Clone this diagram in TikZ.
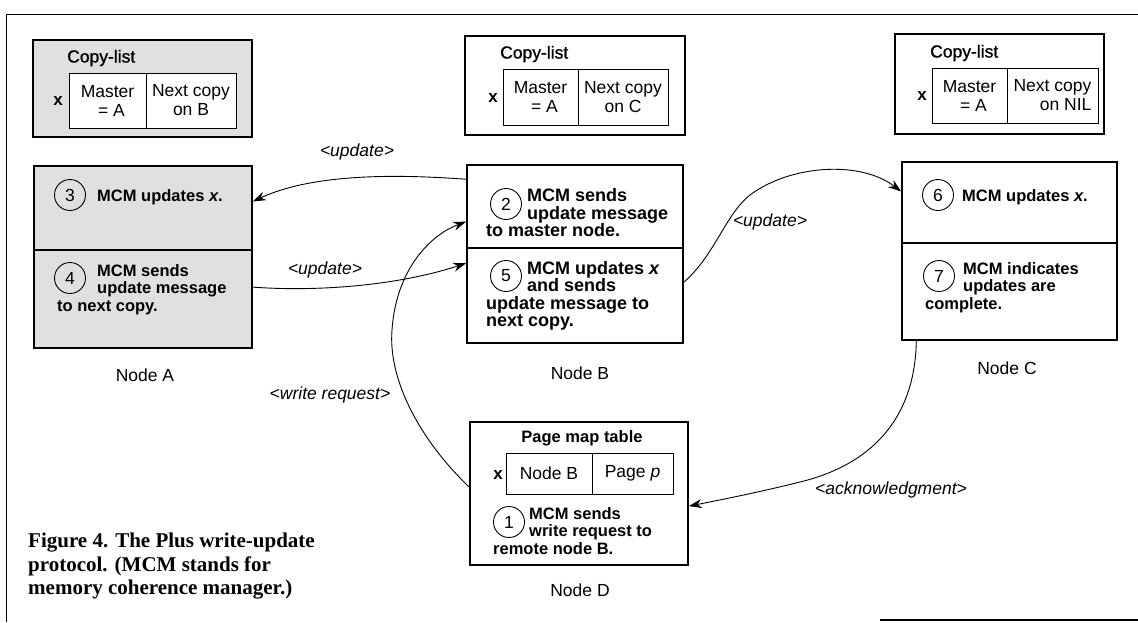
\documentclass[tikz,border=0pt]{standalone}
\usepackage{fontspec}
\setmainfont{Liberation Sans}
\newfontfamily\capfont{Liberation Serif}
\newfontfamily\medfont[FakeBold=1]{Liberation Sans}
\usetikzlibrary{arrows.meta,calc}
\begin{document}
\begin{tikzpicture}[x=1pt,y=-1pt,
  box/.style={draw, line width=1.7pt, inner sep=0pt},
  shaded/.style={fill=black!12},
  cellbox/.style={draw, line width=0.8pt, fill=white, inner sep=0pt, align=center, font=\fontsize{17.5}{19}\selectfont},
  num/.style={circle, draw, line width=0.9pt, minimum size=31pt, inner sep=0pt, font=\fontsize{17.5}{17.5}\selectfont},
  steptxt/.style={anchor=north west, align=left, inner sep=0pt, font=\bfseries\fontsize{16.5}{17.5}\selectfont},
  steptxtB/.style={anchor=north west, align=left, inner sep=0pt, font=\bfseries\fontsize{18}{17.5}\selectfont},
  title/.style={anchor=west, inner sep=0pt, font=\medfont\fontsize{17.5}{19}\selectfont},
  xlab/.style={inner sep=0pt, font=\bfseries\fontsize{17}{17}\selectfont},
  nodelab/.style={inner sep=0pt, font=\fontsize{17.5}{19}\selectfont},
  msg/.style={inner sep=0pt, font=\itshape\fontsize{17.5}{19}\selectfont},
  divider/.style={line width=1.2pt},
  conn/.style={line width=0.9pt, -{Stealth[length=13pt,width=9pt]}},
]
\useasboundingbox (0,0) rectangle (1138,622);

% frame
\draw[line width=0.9pt] (1138,14) -- (6,14) -- (6,622);
\draw[line width=2pt] (880,620) -- (1138,620);

% ---- Copy-list A
\node[box, shaded, minimum width=219pt, minimum height=97pt] (clA) at (142.5,88.5) {};
\node[title] (clAt) at (67,58) {Copy-list};
\node[cellbox, minimum width=77pt, minimum height=55pt] (clA1) at (107.5,100.5) {Master\\\hspace*{8pt}= A};
\node[cellbox, minimum width=90pt, minimum height=55pt] (clA2) at (191,100.5) {Next copy\\on B};
\node[xlab] (clAx) at (58,101) {x};

% ---- Copy-list B
\node[box, minimum width=220pt, minimum height=99pt] (clB) at (575,85.5) {};
\node[title] (clBt) at (500,54) {Copy-list};
\node[cellbox, minimum width=75pt, minimum height=56pt] (clB1) at (540.5,97) {Master\\\hspace*{8pt}= A};
\node[cellbox, minimum width=90pt, minimum height=56pt] (clB2) at (623,97) {Next copy\\on C};
\node[xlab] (clBx) at (493,98) {x};

% ---- Copy-list C
\node[box, minimum width=209pt, minimum height=100pt] (clC) at (999.5,84) {};
\node[title] (clCt) at (930,53) {Copy-list};
\node[cellbox, minimum width=75pt, minimum height=55pt] (clC1) at (969.5,95.5) {Master\\\hspace*{8pt}= A};
\node[cellbox, minimum width=91pt, minimum height=55pt, align=right] (clC2) at (1052.5,95.5) {Next copy\\on NIL};
\node[xlab] (clCx) at (922,96) {x};

% ---- Node A
\node[box, shaded, minimum width=218pt, minimum height=182pt] (nA) at (143,257) {};
\draw[divider] (nA.west |- 0,250) -- (nA.east |- 0,250);
\node[num] (c3) at (70,195) {3};
\node[steptxt] (tA3) at (97,189) {MCM updates \textit{x}.};
\node[num] (c4) at (70,278) {4};
\node[steptxt] (tA4) at (57,264) {\hspace*{40pt}MCM sends\\\hspace*{40pt}update message\\to next copy.};
\node[nodelab] (lA) at (145,375) {Node A};

% ---- Node B
\node[box, minimum width=216pt, minimum height=178pt] (nB) at (575,254) {};
\draw[divider] (nB.west |- 0,248) -- (nB.east |- 0,248);
\node[num] (c2) at (506,204) {2};
\node[steptxtB] (tB2) at (486,188.5) {\hspace*{41pt}MCM sends\\\hspace*{41pt}update message\\to master node.};
\node[num] (c5) at (506,276) {5};
\node[steptxtB] (tB5) at (486,261) {\hspace*{41pt}MCM updates \textit{x}\\\hspace*{41pt}and sends\\update message to\\next copy.};
\node[nodelab] (lB) at (580,373) {Node B};

% ---- Node C
\node[box, minimum width=215pt, minimum height=178pt] (nC) at (1009.5,251) {};
\draw[divider] (nC.west |- 0,243) -- (nC.east |- 0,243);
\node[num] (c6) at (938,195) {6};
\node[steptxt] (tC6) at (962,189) {MCM updates \textit{x}.};
\node[num] (c7) at (939,276) {7};
\node[steptxt] (tC7) at (925,262) {\hspace*{38pt}MCM indicates\\\hspace*{38pt}updates are\\complete.};
\node[nodelab] (lC) at (1007,368) {Node C};

% ---- Node D
\node[box, minimum width=218pt, minimum height=143pt] (nD) at (579,493.5) {};
\node[inner sep=0pt, font=\bfseries\fontsize{16.5}{17.5}\selectfont] (pmt) at (582,438) {Page map table};
\node[cellbox, minimum width=86pt, minimum height=41pt] (pD1) at (549,473.5) {Node B};
\node[cellbox, minimum width=81pt, minimum height=41pt] (pD2) at (632.5,473.5) {Page \textit{p}};
\node[xlab] (pDx) at (498,475) {x};
\node[num] (c1) at (509,522) {1};
\node[steptxt] (tD1) at (493,507) {\hspace*{36pt}MCM sends\\\hspace*{36pt}write request to\\remote node B.};
\node[nodelab] (lD) at (580,590) {Node D};

% ---- connectors
\draw[conn] ($(nB.north west)!0.084!(nB.south west)$) .. controls (420,176) and (320,170) .. ($(nA.north east)!0.198!(nA.south east)$);
\node[msg] (m1) at (357,152) {<update>};

\draw[conn] ($(nA.north east)!0.664!(nA.south east)$) .. controls (320,292) and (400,285) .. ($(nB.north west)!0.551!(nB.south west)$);
\node[msg] (m2) at (325,270) {<update>};

\draw[conn] ($(nD.north west)!0.455!(nD.south west)$) .. controls (420,440) and (388,380) .. (392,330) .. controls (396,270) and (430,235) .. ($(nB.north west)!0.32!(nB.south west)$);
\node[msg] (m3) at (330,395) {<write request>};

\draw[conn] ($(nB.north east)!0.657!(nB.south east)$) .. controls (715,255) and (725,215) .. (750,195) .. controls (790,165) and (860,160) .. ($(nC.north west)!0.169!(nC.south west)$);
\node[msg] (m4) at (770,222) {<update>};

\draw[conn] ($(nC.south west)!0.07!(nC.south east)$) .. controls (915,420) and (870,465) .. (800,482) .. controls (760,492) and (720,500) .. ($(nD.north east)!0.587!(nD.south east)$);
\node[msg] (m5) at (891,490) {<acknowledgment>};

% ---- caption
\node[anchor=north west, align=left, inner sep=0pt, font=\capfont\bfseries\fontsize{21}{23.5}\selectfont] (cap) at (28,533) {Figure 4. The Plus write-update\\protocol. (MCM stands for\\memory coherence manager.)};
\end{tikzpicture}
\end{document}
